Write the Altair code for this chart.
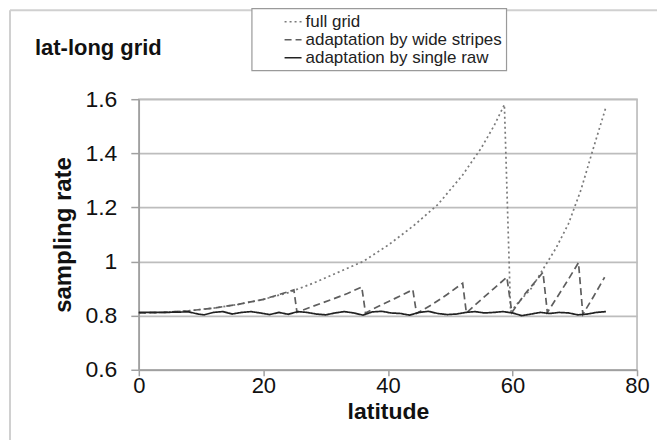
import altair as alt
import pandas as pd

FONT = "Liberation Sans"

chart_title = "lat-long grid"
series_names = ["full grid", "adaptation by wide stripes", "adaptation by single raw"]

# full grid (dotted)
lat_full = [0, 4, 8, 12, 16, 20, 24, 28, 32, 36, 40, 44, 48, 52, 55, 57, 58.7,
            59.7, 61, 63, 65, 67, 69, 71, 73, 75]
val_full = [0.810, 0.812, 0.818, 0.828, 0.842, 0.860, 0.885, 0.920, 0.960, 1.000,
            1.060, 1.130, 1.210, 1.320, 1.420, 1.500, 1.580,
            0.815, 0.850, 0.900, 0.975, 1.050, 1.140, 1.265, 1.420, 1.570]

# adaptation by wide stripes (dashed)
lat_wide = [0, 4, 8, 12, 16, 20, 24.9, 25.4, 28, 31, 33.5, 35.8, 36.4, 38.5, 41,
            44.0, 44.6, 47, 49.5, 52.0, 52.6, 55, 57, 59.1, 59.9, 62, 64.9, 65.6,
            67.5, 69, 70.6, 71.3, 73, 74.8]
val_wide = [0.810, 0.812, 0.818, 0.828, 0.842, 0.860, 0.895, 0.812, 0.835, 0.860,
            0.882, 0.906, 0.810, 0.835, 0.862, 0.896, 0.808, 0.840, 0.878, 0.920,
            0.810, 0.860, 0.900, 0.942, 0.812, 0.880, 0.960, 0.812, 0.880, 0.935,
            0.996, 0.805, 0.870, 0.942]

# adaptation by single raw (solid)
lat_single = [0, 4, 8, 9.5, 10.5, 12, 13.5, 15, 16.5, 18, 19.5, 21, 22.5, 24, 25.5,
              27, 28.5, 30, 31.5, 33, 34.5, 36, 37.5, 39, 40.5, 42, 43.5, 45, 46.5,
              48, 49.5, 51, 52.5, 54, 55.5, 57, 58.5, 60, 61.5, 63, 64.5, 66, 67.5,
              69, 70.5, 72, 73.5, 75]
val_single = [0.812, 0.812, 0.814, 0.806, 0.803, 0.812, 0.815, 0.806, 0.812, 0.815,
              0.810, 0.804, 0.812, 0.805, 0.815, 0.812, 0.806, 0.803, 0.810, 0.815,
              0.810, 0.802, 0.814, 0.816, 0.810, 0.808, 0.802, 0.812, 0.816, 0.808,
              0.804, 0.806, 0.812, 0.815, 0.810, 0.812, 0.815, 0.810, 0.800, 0.806,
              0.812, 0.808, 0.812, 0.810, 0.803, 0.806, 0.812, 0.815]

x_ticks = [0, 20, 40, 60, 80]
y_ticks = [0.6, 0.8, 1.0, 1.2, 1.4, 1.6]

rows = []
for name, lats, vals in zip(series_names, [lat_full, lat_wide, lat_single],
                            [val_full, val_wide, val_single]):
    for i, (a, b) in enumerate(zip(lats, vals)):
        rows.append({"series": name, "lat": a, "rate": b, "order": i})
df = pd.DataFrame(rows)

legend = alt.Legend(
    title=None, orient="none", legendX=113, legendY=-91, labelLimit=400,
    labelExpr="datum.label + '\u00a0\u00a0'",
)

lines = alt.Chart(df).mark_line(strokeWidth=1.7).encode(
    x=alt.X("lat:Q", scale=alt.Scale(domain=[0, 80], nice=False),
            axis=alt.Axis(values=x_ticks, title="latitude", grid=False,
                          labelFlush=False, tickSize=6, labelPadding=0,
                          labelFontSize=22, titleY=42, titleBaseline="middle")),
    y=alt.Y("rate:Q", scale=alt.Scale(domain=[0.6, 1.6], nice=False, zero=False),
            axis=alt.Axis(values=y_ticks, format="~g", title="sampling rate",
                          grid=True, gridColor="#bdbdbd", gridWidth=1.8,
                          labelFlush=False, tickSize=8, labelPadding=14,
                          titleX=-75, titleY=135.5, titleBaseline="middle",
                          titleFontSize=24)),
    color=alt.Color("series:N",
                    scale=alt.Scale(domain=series_names,
                                    range=["#7a7a7a", "#5e5e5e", "#222222"]),
                    legend=legend),
    strokeDash=alt.StrokeDash("series:N",
                              scale=alt.Scale(domain=series_names,
                                              range=[[2, 3], [7, 4], [1, 0]]),
                              legend=legend),
    order="order:Q",
)

one = pd.DataFrame({"k": [0]})
frame_top = alt.Chart(one).mark_rule(color="#d0d0d0", strokeWidth=2).encode(
    x=alt.value(-129), x2=alt.value(540), y=alt.value(-89))
frame_left = alt.Chart(one).mark_rule(color="#d0d0d0", strokeWidth=2).encode(
    x=alt.value(-129), y=alt.value(-89), y2=alt.value(345))
title_text = alt.Chart(one).mark_text(
    align="left", baseline="alphabetic", fontSize=22, fontWeight="bold",
    font=FONT, color="#111111",
).encode(x=alt.value(-104), y=alt.value(-44), text=alt.value(chart_title))

chart = alt.layer(frame_top, frame_left, title_text, lines).properties(
    width=499, height=271,
    padding={"left": 131, "top": 91, "right": 20, "bottom": 70},
    autosize=alt.AutoSizeParams(type="none"),
).configure_view(
    stroke="#b5b5b5", strokeWidth=1.5
).configure_axis(
    labelFont=FONT, titleFont=FONT, labelFontSize=23, titleFontSize=23,
    titleFontWeight="bold", labelColor="#111111", titleColor="#111111",
    domainColor="#a0a0a0", tickColor="#a0a0a0", domainWidth=1.5, tickWidth=1.5,
).configure_legend(
    labelFont=FONT, labelFontSize=17, labelColor="#222222",
    symbolType="stroke", symbolSize=289, symbolStrokeWidth=1.6,
    symbolOffset=28, labelOffset=3, rowPadding=0, padding=4,
    strokeColor="#9a9a9a", strokeWidth=1.2, fillColor="white",
    cornerRadius=0,
)

chart.save("out.html", embed_options={"renderer": "svg", "actions": False})
